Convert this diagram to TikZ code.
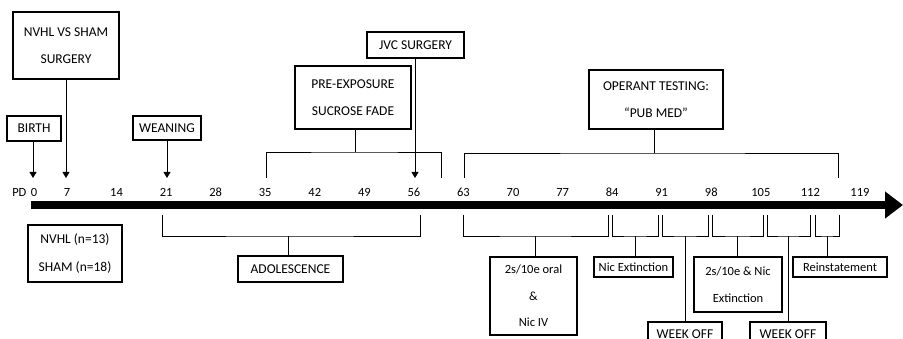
\documentclass[tikz,border=0pt]{standalone}
\usepackage{fontspec}
\setmainfont{Carlito}
\usetikzlibrary{arrows.meta,positioning}

\begin{document}
\begin{tikzpicture}[
  x=1pt, y=-1pt,
  evbox/.style={draw, line width=1.1pt, align=center, inner sep=0pt, font=\fontsize{13.5}{27.5}\selectfont},
  lcbox/.style={evbox, font=\fontsize{12.5}{27}\selectfont},
  daylbl/.style={inner sep=0pt, font=\fontsize{12.5}{15}\selectfont},
  link/.style={line width=0.9pt},
  >={Triangle[length=6pt,width=7pt]}
]
\useasboundingbox (0,0) rectangle (903,339);

% Time axis (postnatal days)
\coordinate (axstart) at (31,205);
\coordinate (axend) at (903,205);
\draw[line width=8pt, -{Triangle[length=18pt,width=26pt]}] (axstart) -- (axend);
\node[daylbl] (t0) at (34,192) {0};
\node[daylbl, left=4pt of t0] (pd) {PD};
\foreach \d in {7,14,...,119}
  \node[daylbl] (t\d) at ({67+(\d-7)*7.08},192) {\d};

% Events above the axis
\node[evbox, minimum width=106pt, minimum height=67pt] (surg) at (66,45.5) {NVHL VS SHAM\\SURGERY};
\node[evbox, minimum width=54pt, minimum height=25pt] (birth) at (34,128.5) {BIRTH};
\node[evbox, minimum width=68pt, minimum height=24pt] (wean) at (167,128) {WEANING};
\node[evbox, minimum width=97pt, minimum height=26pt] (jvc) at (415.5,45) {JVC SURGERY};
\node[evbox, minimum width=116pt, minimum height=63pt] (pre) at (353,97.5) {PRE-EXPOSURE\\SUCROSE FADE};
\node[evbox, minimum width=134pt, minimum height=59pt] (oper) at (656,99.5) {OPERANT TESTING:\\“PUB MED”};

\coordinate (d0) at (33,178);
\coordinate (d7) at (66,178);
\coordinate (d21) at (167,178);
\coordinate (d56) at (415,178);
\draw[link, ->] (d0 |- birth.south) -- (d0);
\draw[link, ->] (surg) -- (d7);
\draw[link, ->] (wean) -- (d21);
\draw[link, ->] (d56 |- jvc.south) -- (d56);

% Brackets above the axis
\coordinate (pl) at (266,178);
\coordinate (pr) at (441,178);
\coordinate (jp) at (355,152);
\draw[link] (pl) |- (jp) -| (pr);
\draw[link] (jp) -- (jp |- pre.south);
\coordinate (ol) at (464,178);
\coordinate (or) at (838,178);
\coordinate (jo) at (654,153);
\draw[link] (ol) |- (jo) -| (or);
\draw[link] (jo) -- (jo |- oper.south);

% Groups and phases below the axis
\node[evbox, minimum width=94pt, minimum height=57pt] (grp) at (75,253.5) {NVHL (n=13)\\SHAM (n=18)};
\node[evbox, minimum width=105pt, minimum height=26pt] (adol) at (290.5,269) {ADOLESCENCE};
\node[lcbox, minimum width=87pt, minimum height=78pt, font=\fontsize{12.5}{26.5}\selectfont] (oral) at (533.5,296) {2s/10e oral\\\&\\Nic IV};
\node[lcbox, minimum width=79pt, minimum height=20pt] (next) at (633.5,267) {Nic Extinction};
\node[lcbox, minimum width=88pt, minimum height=55pt] (snext) at (738,284.5) {2s/10e \& Nic\\Extinction};
\node[evbox, minimum width=74pt, minimum height=24pt] (off1) at (685,334) {WEEK OFF};
\node[evbox, minimum width=76pt, minimum height=24pt] (off2) at (788,334) {WEEK OFF};
\node[lcbox, minimum width=94pt, minimum height=20pt] (rein) at (840,267) {Reinstatement};

% Brackets below the axis: left leg, right leg, joint
\foreach \n/\l/\r/\j in {a/162/420/288, b/463/608/535, c/612/658/635, d/662/708/685, e/712/763/737, f/767/810/788, g/815/839/827} {
  \coordinate (\n l) at (\l,215);
  \coordinate (\n r) at (\r,215);
  \coordinate (\n j) at (\j,236);
  \draw[link] (\n l) |- (\n j) -| (\n r);
}
\draw[link] (aj) -- (aj |- adol.north);
\draw[link] (bj) -- (bj |- oral.north);
\draw[link] (cj) -- (cj |- next.north);
\draw[link] (dj) -- (dj |- off1.north);
\draw[link] (ej) -- (ej |- snext.north);
\draw[link] (fj) -- (fj |- off2.north);
\draw[link] (gj) -- (gj |- rein.north);
\end{tikzpicture}
\end{document}
